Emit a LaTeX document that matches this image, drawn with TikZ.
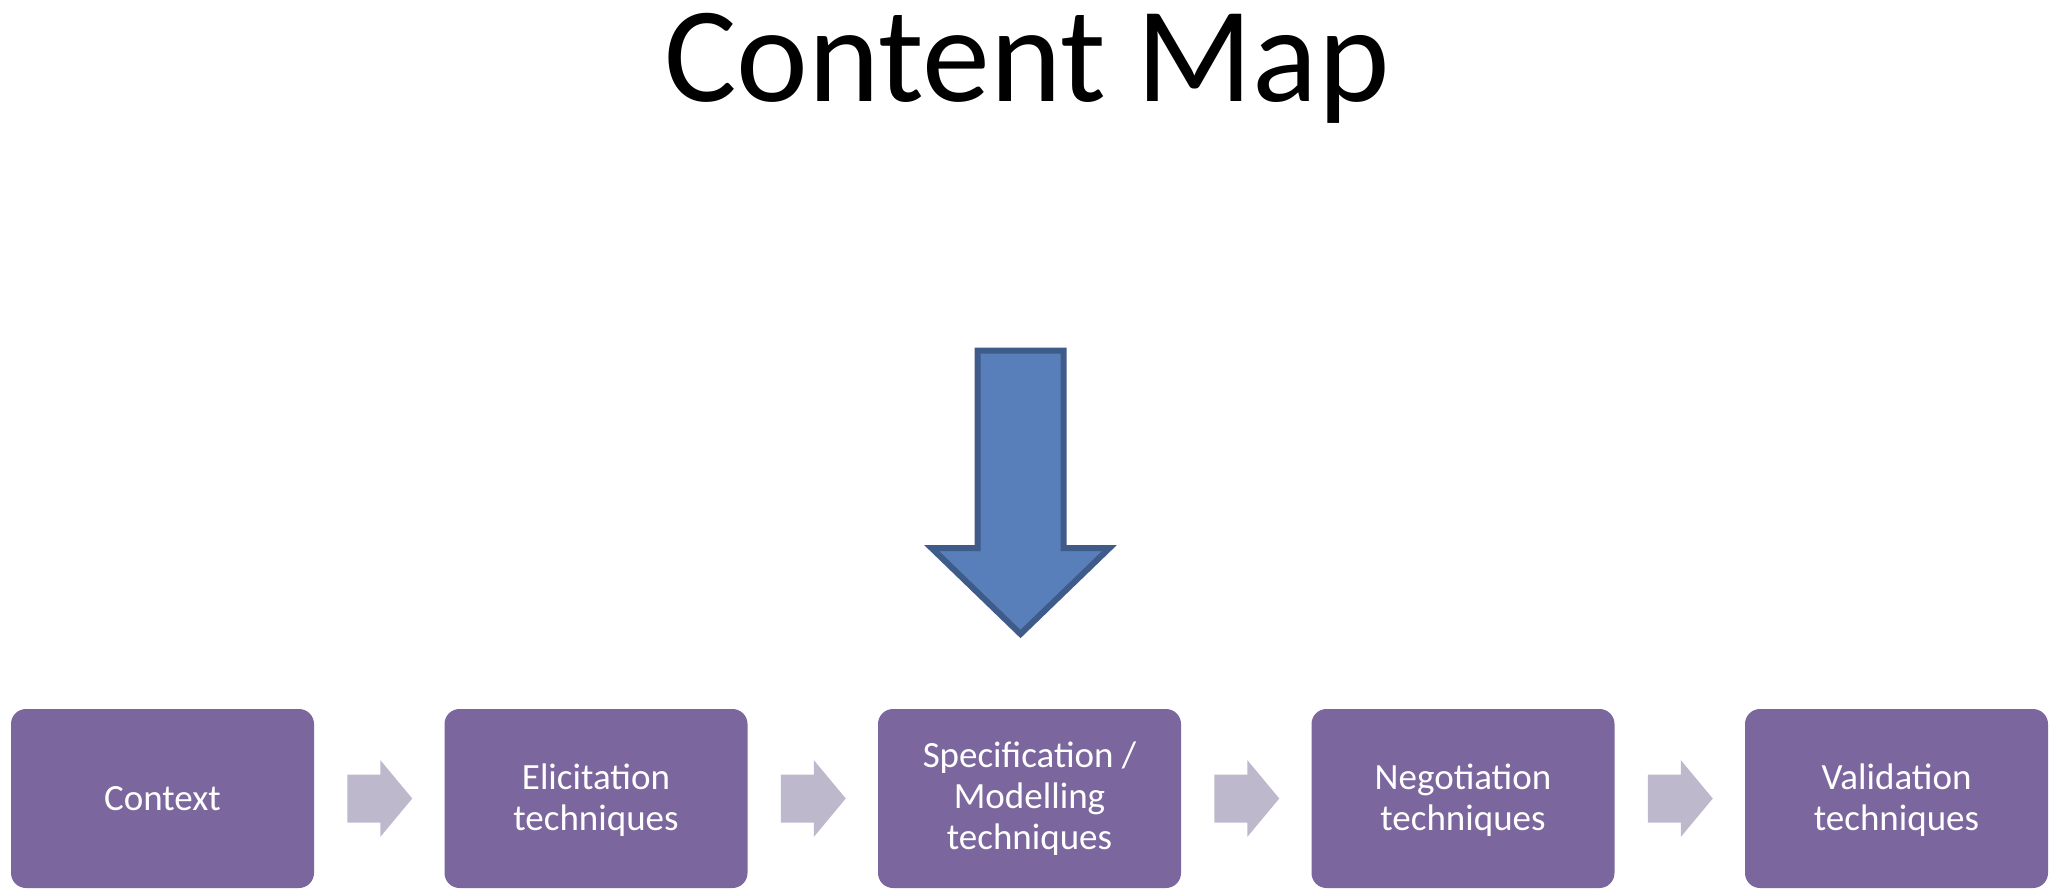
\documentclass[tikz,border=0pt]{standalone}
\usepackage{fontspec}
\setmainfont{Carlito}
\usetikzlibrary{calc}
\definecolor{boxpurple}{HTML}{7B679E}
\definecolor{chevgrey}{HTML}{BDB8CC}
\definecolor{arrowblue}{HTML}{587FBA}
\definecolor{arrowedge}{HTML}{3E5B8A}
\begin{document}
\begin{tikzpicture}[x=0.5pt,y=-0.5pt]\tikzstyle{every node}=[inner sep=0pt]
\tikzstyle{box}=[rounded corners=7.5pt,fill=boxpurple,text=white,align=center,
  minimum width=151.5pt,minimum height=89.5pt,font=\fontsize{18.5}{20.5}\selectfont]
\tikzstyle{chev}=[fill=chevgrey]
\tikzstyle{bigarrow}=[fill=arrowblue,draw=arrowedge,line width=3pt,line join=miter]
\useasboundingbox (0,0) rectangle (2052,894);
\node[anchor=base,font=\fontsize{68}{80}\selectfont] at (1027,101) (title) {Content Map};
\node[box] at (162.5,798.5) (ctx) {Context};
\node[box] at (596,798.5) (eli) {\strut Elicitation\\techniques};
\node[box] at (1029.5,798.5) (spec) {Specification /\\Modelling\\techniques};
\node[box] at (1463,798.5) (neg) {\strut Negotiation\\techniques};
\node[box] at (1896.5,798.5) (val) {\strut Validation\\techniques};
\coordinate (c1) at ($(ctx.east)!0.5!(eli.west)$);
\coordinate (c2) at ($(eli.east)!0.5!(spec.west)$);
\coordinate (c3) at ($(spec.east)!0.5!(neg.west)$);
\coordinate (c4) at ($(neg.east)!0.5!(val.west)$);
\foreach \c in {c1,c2,c3,c4}
  \fill[chev] (\c) ++(-32,-24) -- ++(33,0) -- ++(0,-14.5) -- ++(32,38.5)
      -- ++(-32,38.5) -- ++(0,-14.5) -- ++(-33,0) -- cycle;
\draw[bigarrow] (977.5,350.5) -- (1063.5,350.5) -- (1063.5,548) -- (1109.5,548)
    -- (1020.5,634) -- (931.5,548) -- (977.5,548) -- cycle;
\end{tikzpicture}
\end{document}
